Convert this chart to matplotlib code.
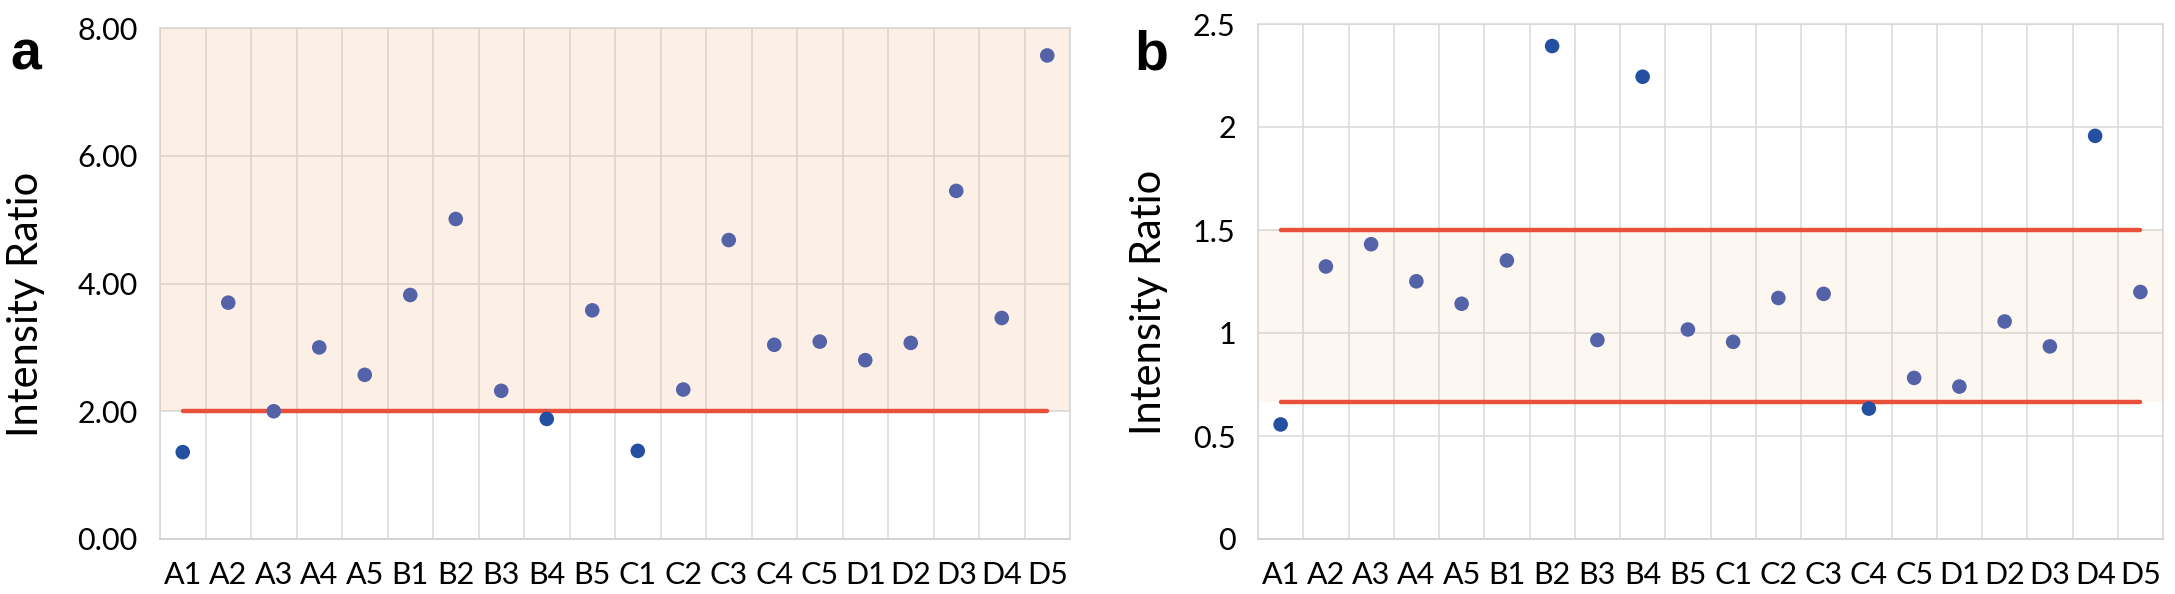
import matplotlib.pyplot as plt
from matplotlib.ticker import FormatStrFormatter, FixedLocator

# wells
wells = ['A1', 'A2', 'A3', 'A4', 'A5', 'B1', 'B2', 'B3', 'B4', 'B5',
         'C1', 'C2', 'C3', 'C4', 'C5', 'D1', 'D2', 'D3', 'D4', 'D5']

# panel a values
ratio_a = [1.36, 3.70, 2.00, 3.00, 2.57, 3.82, 5.01, 2.32, 1.88, 3.58,
           1.38, 2.34, 4.68, 3.04, 3.09, 2.80, 3.07, 5.45, 3.46, 7.57]
# panel b values
ratio_b = [0.556, 1.323, 1.431, 1.251, 1.142, 1.352, 2.393, 0.966, 2.244, 1.017,
           0.957, 1.170, 1.190, 0.633, 0.782, 0.740, 1.056, 0.935, 1.957, 1.199]

thr_a = 2.0
thr_b_low = 0.667
thr_b_high = 1.5

yticks_a = [0, 2, 4, 6, 8]
yticks_b = [0, 0.5, 1, 1.5, 2, 2.5]

DARK = '#2350a0'
MUTED = '#5462a8'
RED = '#e8503a'
GRID = '#d9d9d9'
SHADE = '#f4b183'

plt.rcParams['font.family'] = ['Lato', 'DejaVu Sans']

fig = plt.figure(figsize=(21.75, 5.94), dpi=100)
ax_a = fig.add_axes([160/2175, 55/594, 910/2175, 511/594])
ax_b = fig.add_axes([1258/2175, 55/594, 905/2175, 515/594])


def style_axes(ax, yticks, ymax):
    n = len(wells)
    ax.set_xlim(-0.5, n - 0.5)
    ax.set_ylim(0, ymax)
    ax.set_xticks(range(n))
    ax.set_xticklabels(wells)
    ax.xaxis.set_minor_locator(FixedLocator([i + 0.5 for i in range(-1, n)]))
    ax.set_yticks(yticks)
    ax.grid(True, axis='y', which='major', color=GRID, linewidth=1.1, zorder=0)
    ax.grid(True, axis='x', which='minor', color=GRID, linewidth=1.1, zorder=0)
    ax.set_axisbelow(True)
    ax.tick_params(which='both', length=0, labelsize=22, pad=16, colors='black')
    for s in ax.spines.values():
        s.set_color(GRID)
        s.set_linewidth(1.2)
        s.set_zorder(0.5)
    ax.spines['bottom'].set_color('#c8c8c8')
    ax.set_ylabel('Intensity Ratio', fontsize=30)


# panel a
style_axes(ax_a, yticks_a, 8)
ax_a.yaxis.set_major_formatter(FormatStrFormatter('%.2f'))
ax_a.axhspan(thr_a, 8, color=SHADE, alpha=0.2, lw=0, zorder=1)
cols_a = [MUTED if v >= thr_a else DARK for v in ratio_a]
ax_a.scatter(range(len(wells)), ratio_a, s=110, c=cols_a, lw=0, zorder=3)
ax_a.plot(range(len(wells)), [thr_a] * len(wells), color=RED, lw=3.2,
          solid_capstyle='round', zorder=2)
ax_a.yaxis.set_label_coords(-0.147, 0.46)
ax_a.yaxis.label.set_va('center')

# panel b
style_axes(ax_b, yticks_b, 2.5)
ax_b.yaxis.set_major_formatter(FormatStrFormatter('%g'))
ax_b.axhspan(thr_b_low, thr_b_high, color=SHADE, alpha=0.1, lw=0, zorder=1)
cols_b = [MUTED if thr_b_low <= v <= thr_b_high else DARK for v in ratio_b]
ax_b.scatter(range(len(wells)), ratio_b, s=110, c=cols_b, lw=0, zorder=3)
ax_b.plot(range(len(wells)), [thr_b_high] * len(wells), color=RED, lw=3.2,
          solid_capstyle='round', zorder=2)
ax_b.plot(range(len(wells)), [thr_b_low] * len(wells), color=RED, lw=3.2,
          solid_capstyle='round', zorder=2)
ax_b.yaxis.set_label_coords(-0.120, 0.46)
ax_b.yaxis.label.set_va('center')

# panel letters
fig.text(26/2175, 1 - 70/594, 'a', fontsize=40, fontweight='bold',
         family='Liberation Sans', ha='center', va='baseline')
fig.text(1151/2175, 1 - 70/594, 'b', fontsize=40, fontweight='bold',
         family='Liberation Sans', ha='center', va='baseline')

fig.savefig('out.png', dpi=100)
